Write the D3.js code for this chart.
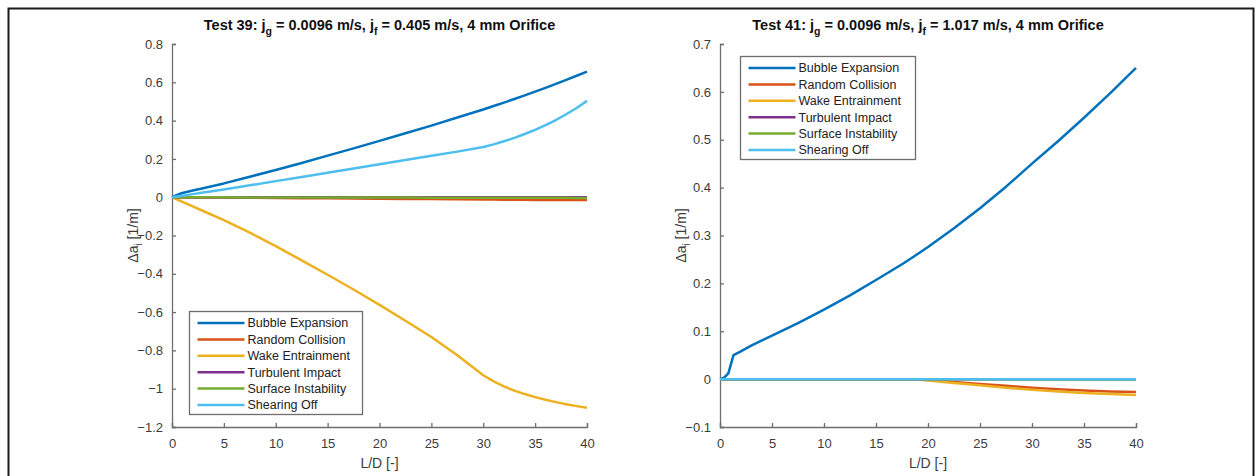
<!DOCTYPE html>
<html>
<head>
<meta charset="utf-8">
<script src="https://cdn.jsdelivr.net/npm/d3@7"></script>
<style>
  body { margin: 0; background: #fff; }
  text { font-family: "Liberation Sans", Arial, Helvetica, sans-serif; }
</style>
</head>
<body>
<script>
// page size
var width = 1257,
    height = 476;

// legend names and matlab default colour order
var seriesNames = ['Bubble Expansion', 'Random Collision', 'Wake Entrainment',
                   'Turbulent Impact', 'Surface Instability', 'Shearing Off'];
var seriesColors = ['#0072BD', '#D95319', '#EDB120', '#7E2F8E', '#77AC30', '#4DBEEE'];

// Test 39 (left panel)
var ld39 = [0, 0.5, 1, 2, 3, 5, 7.5, 10, 12.5, 15, 17.5, 20, 22.5, 25, 27.5, 30, 31, 32, 33, 34, 35, 36, 37, 38, 39, 40];
var bubble39 = [0, 0.012, 0.022, 0.035, 0.047, 0.072, 0.107, 0.142, 0.179, 0.217, 0.255, 0.294, 0.334, 0.374, 0.416, 0.458, 0.476, 0.494, 0.513, 0.532, 0.551, 0.571, 0.592, 0.613, 0.634, 0.656];
var random39 = [0, 0, -0.0005, -0.001, -0.0015, -0.002, -0.003, -0.004, -0.005, -0.006, -0.007, -0.008, -0.009, -0.01, -0.011, -0.012, -0.012, -0.013, -0.013, -0.013, -0.014, -0.014, -0.014, -0.015, -0.015, -0.015];
var wake39 = [0, -0.012, -0.024, -0.048, -0.072, -0.12, -0.185, -0.255, -0.33, -0.405, -0.482, -0.562, -0.645, -0.73, -0.825, -0.93, -0.962, -0.988, -1.01, -1.028, -1.044, -1.058, -1.07, -1.081, -1.091, -1.1];
var turb39 = [0, 0, 0, 0, 0, 0, 0, 0, 0, 0, 0, 0, 0, 0, 0, 0, 0, 0, 0, 0, 0, 0, 0, 0, 0, 0];
var surface39 = [0, 0, 0, 0, 0, -0.0005, -0.001, -0.001, -0.0015, -0.0015, -0.002, -0.002, -0.002, -0.0025, -0.0025, -0.003, -0.003, -0.003, -0.003, -0.003, -0.0035, -0.0035, -0.0035, -0.0035, -0.004, -0.004];
var shear39 = [0, 0.004, 0.008, 0.016, 0.024, 0.04, 0.062, 0.084, 0.106, 0.128, 0.15, 0.172, 0.194, 0.216, 0.238, 0.262, 0.276, 0.292, 0.31, 0.33, 0.352, 0.376, 0.403, 0.433, 0.466, 0.503];

// Test 41 (right panel)
var ld41 = [0, 0.4, 0.8, 1.3, 2, 3, 5, 7.5, 10, 12.5, 15, 17.5, 18.5, 20, 22.5, 25, 27.5, 30, 32.5, 35, 37.5, 40];
var bubble41 = [0, 0.003, 0.012, 0.05, 0.058, 0.07, 0.091, 0.117, 0.145, 0.175, 0.207, 0.24, 0.254, 0.276, 0.315, 0.357, 0.402, 0.45, 0.497, 0.546, 0.597, 0.65];
var random41 = [0, 0, 0, 0, 0, 0, 0, 0, 0, 0, 0, 0, 0, -0.002, -0.006, -0.01, -0.014, -0.018, -0.021, -0.024, -0.026, -0.027];
var wake41 = [0, 0, 0, 0, 0, 0, 0, 0, 0, 0, 0, 0, 0, -0.003, -0.008, -0.013, -0.018, -0.022, -0.026, -0.029, -0.031, -0.033];
var turb41 = [0, 0, 0, 0, 0, 0, 0, 0, 0, 0, 0, 0, 0, 0, 0, 0, 0, 0, 0, 0, 0, 0];
var surface41 = [0, 0, 0, 0, 0, 0, 0, 0, 0, 0, 0, 0, 0, 0, 0, 0, 0, 0, 0, 0, 0, 0];
var shear41 = [0, 0, 0, 0, 0, 0, 0, 0, 0, 0, 0, 0, 0, 0, 0, 0, 0, 0, 0, 0, 0, 0];

// tick values
var xTicks = [0, 5, 10, 15, 20, 25, 30, 35, 40];
var yTicks39 = [0.8, 0.6, 0.4, 0.2, 0, -0.2, -0.4, -0.6, -0.8, -1, -1.2];
var yTicks41 = [0.7, 0.6, 0.5, 0.4, 0.3, 0.2, 0.1, 0, -0.1];

var svg = d3.select('body')
  .append('svg')
  .attr('width', width)
  .attr('height', height);

// outer figure frame
svg.append('rect')
  .attr('x', 8.5).attr('y', 8.5)
  .attr('width', 1245).attr('height', 520)
  .attr('fill', 'none')
  .attr('stroke', '#1a1a1a')
  .attr('stroke-width', 2);

var panels = [
  {
    left: 172, right: 587, top: 44, bottom: 427,
    ydomain: [-1.2, 0.8], yticks: yTicks39,
    xs: ld39,
    ys: [bubble39, random39, wake39, turb39, surface39, shear39],
    test: 'Test 39', jf: '0.405',
    legend: { x: 189.5, y: 311.5, w: 173, h: 103 }
  },
  {
    left: 720, right: 1136, top: 44, bottom: 427,
    ydomain: [-0.1, 0.7], yticks: yTicks41,
    xs: ld41,
    ys: [bubble41, random41, wake41, turb41, surface41, shear41],
    test: 'Test 41', jf: '1.017',
    legend: { x: 740.5, y: 56.5, w: 175, h: 103 }
  }
];

panels.forEach(function(p) {
  var x = d3.scaleLinear().domain([0, 40]).range([p.left, p.right]);
  var y = d3.scaleLinear().domain(p.ydomain).range([p.bottom, p.top]);
  var g = svg.append('g');

  // axes, ticks point inward like matlab
  var xAxis = d3.axisBottom(x).tickValues(xTicks).tickSizeInner(-4).tickSizeOuter(-4).tickPadding(9);
  var yAxis = d3.axisLeft(y).tickValues(p.yticks).tickSizeInner(-4).tickSizeOuter(-4).tickPadding(9)
    .tickFormat(function(d) { return d3.format('')(+d.toFixed(1)); });

  var gx = g.append('g').attr('transform', 'translate(0,' + p.bottom + ')').call(xAxis);
  var gy = g.append('g').attr('transform', 'translate(' + p.left + ',0)').call(yAxis);
  [gx, gy].forEach(function(a) {
    a.select('.domain').attr('stroke', '#6e6e6e').attr('stroke-width', 1.3);
    a.selectAll('.tick line').attr('stroke', '#6e6e6e').attr('stroke-width', 1.3);
    a.selectAll('.tick text')
      .attr('fill', '#3c3c3c')
      .style('font-size', '13px')
      .style('font-family', '"Liberation Sans", Arial, sans-serif');
  });
  gx.selectAll('.tick text').attr('dy', '0.95em');

  // lines
  var line = d3.line()
    .x(function(d) { return x(d[0]); })
    .y(function(d) { return y(d[1]); });

  p.ys.forEach(function(vals, i) {
    var pts = p.xs.map(function(v, k) { return [v, vals[k]]; });
    g.append('path')
      .datum(pts)
      .attr('d', line)
      .attr('fill', 'none')
      .attr('stroke', seriesColors[i])
      .attr('stroke-width', 2.5)
      .attr('stroke-linejoin', 'round');
  });

  // title with subscripts
  var cx = (p.left + p.right) / 2;
  var title = g.append('text')
    .attr('x', cx).attr('y', 30)
    .attr('text-anchor', 'middle')
    .style('font-size', '14.5px')
    .style('font-weight', 'bold')
    .attr('fill', '#111');
  title.append('tspan').text(p.test + ': j');
  title.append('tspan').attr('dy', 5).style('font-size', '10.5px').text('g');
  title.append('tspan').attr('dy', -5).text(' = 0.0096 m/s, j');
  title.append('tspan').attr('dy', 5).style('font-size', '10.5px').text('f');
  title.append('tspan').attr('dy', -5).text(' = ' + p.jf + ' m/s, 4 mm Orifice');

  // x label
  g.append('text')
    .attr('x', cx).attr('y', 468)
    .attr('text-anchor', 'middle')
    .attr('fill', '#3c3c3c')
    .style('font-size', '14px')
    .text('L/D [-]');

  // y label, placed left of the widest tick label
  var cy = (p.top + p.bottom) / 2;
  var yl = g.append('text')
    .attr('transform', 'translate(' + (p.left - 34) + ',' + cy + ') rotate(-90)')
    .attr('text-anchor', 'middle')
    .attr('fill', '#3c3c3c')
    .style('font-size', '14px');
  yl.append('tspan').text('\u0394a');
  yl.append('tspan').attr('dy', 4).style('font-size', '10px').text('i');
  yl.append('tspan').attr('dy', -4).text(' [1/m]');

  // legend
  var L = p.legend;
  var lg = g.append('g');
  lg.append('rect')
    .attr('x', L.x).attr('y', L.y)
    .attr('width', L.w).attr('height', L.h)
    .attr('fill', '#fff')
    .attr('stroke', '#6e6e6e')
    .attr('stroke-width', 1.3);
  seriesNames.forEach(function(name, i) {
    var ey = L.y + 11.5 + i * 16.4;
    lg.append('line')
      .attr('x1', L.x + 8).attr('x2', L.x + 55)
      .attr('y1', ey).attr('y2', ey)
      .attr('stroke', seriesColors[i])
      .attr('stroke-width', 2.5);
    lg.append('text')
      .attr('x', L.x + 58).attr('y', ey)
      .attr('dy', '0.35em')
      .attr('fill', '#222')
      .style('font-size', '12.5px')
      .text(name);
  });
});
</script>
</body>
</html>
